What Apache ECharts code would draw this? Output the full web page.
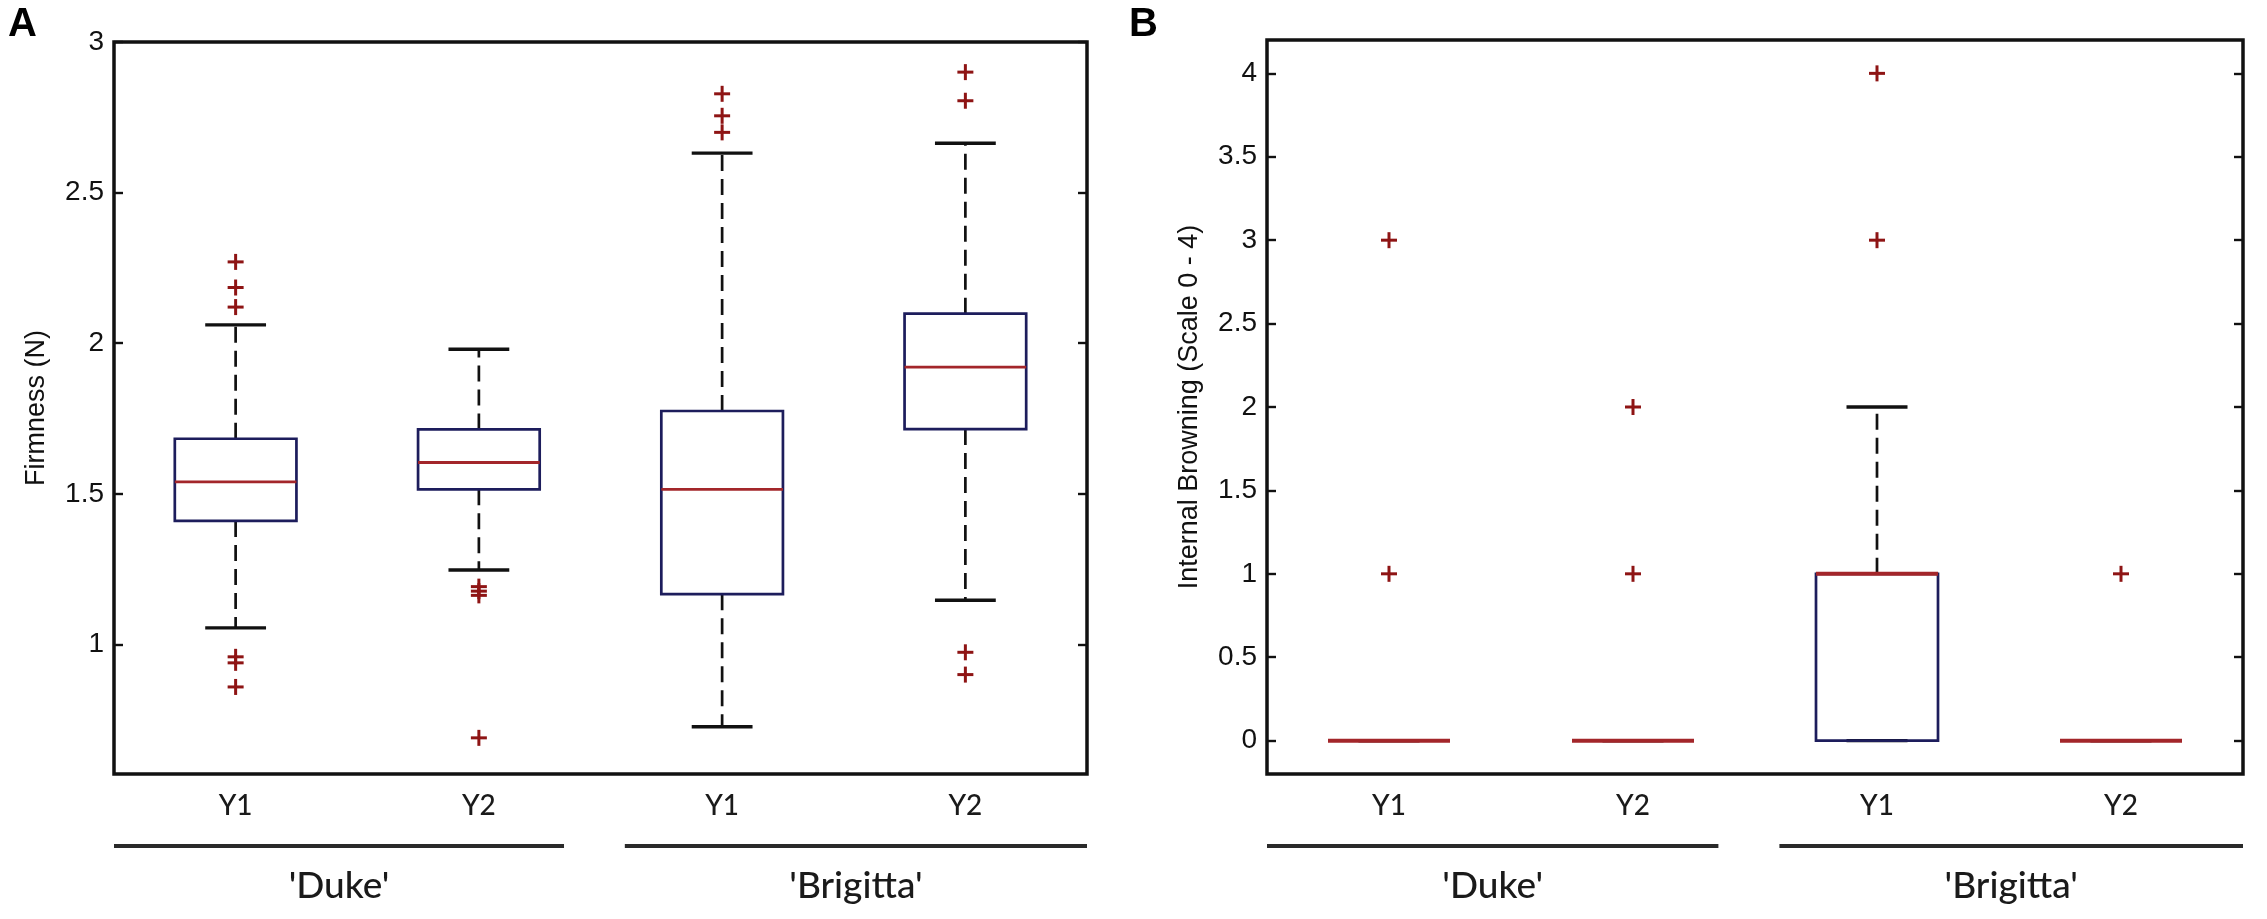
<!DOCTYPE html>
<html><head><meta charset="utf-8">
<script src="https://cdn.jsdelivr.net/npm/echarts@6/dist/echarts.min.js"></script>
<style>html,body{margin:0;padding:0;background:#fff}#c{width:2267px;height:919px}</style>
</head><body><div id="c"></div>
<script>
// ---- data ----
const categories = ['Y1', 'Y2', 'Y1', 'Y2'];
const groupNames = ["'Duke'", "'Brigitta'"];
// each box: [category index, lower whisker, Q1, median, Q3, upper whisker]
const firmnessBoxes = [
  [0, 1.055, 1.41, 1.54, 1.683, 2.061],
  [1, 1.247, 1.515, 1.604, 1.714, 1.98],
  [2, 0.727, 1.167, 1.515, 1.775, 2.631],
  [3, 1.147, 1.715, 1.921, 2.098, 2.664]
];
const firmnessOutliers = [
  [0, 2.27], [0, 2.185], [0, 2.12], [0, 0.959], [0, 0.939], [0, 0.859],
  [1, 1.192], [1, 1.177], [1, 1.163], [1, 0.69],
  [2, 2.828], [2, 2.755], [2, 2.70],
  [3, 2.90], [3, 2.805], [3, 0.974], [3, 0.90]
];
const browningBoxes = [
  [0, 0, 0, 0, 0, 0],
  [1, 0, 0, 0, 0, 0],
  [2, 0, 0, 1, 1, 2],
  [3, 0, 0, 0, 0, 0]
];
const browningOutliers = [
  [0, 1], [0, 3], [1, 1], [1, 2], [2, 3], [2, 4], [3, 1]
];
const firmnessTicks = [1, 1.5, 2, 2.5, 3];
const browningTicks = [0, 0.5, 1, 1.5, 2, 2.5, 3, 3.5, 4];
const firmnessRange = [0.57, 3];
const browningRange = [-0.2, 4.2];
// group bracket spans in category coordinates
const groupSpans = [[-0.5, 1.35], [1.6, 3.5]];

// ---- styles ----
const BOX_COLOR = '#1d1d5c';
const MED_COLOR = '#a3262a';
const OUT_COLOR = '#8e1414';
const INK = '#111';

function makeBoxItem(medWidth) {
  return function (params, api) {
    const i = api.value(0);
    const bw = api.size([1, 0])[0];
    const hb = bw * 0.25, hc = bw * 0.125;
    const cx = api.coord([i, api.value(3)])[0];
    const yLo = api.coord([i, api.value(1)])[1];
    const yQ1 = api.coord([i, api.value(2)])[1];
    const yMed = api.coord([i, api.value(3)])[1];
    const yQ3 = api.coord([i, api.value(4)])[1];
    const yHi = api.coord([i, api.value(5)])[1];
    const dash = { stroke: INK, lineWidth: 2.7, lineDash: [16, 8] };
    const cap = { stroke: INK, lineWidth: 3.4 };
    return {
      type: 'group',
      children: [
        { type: 'line', shape: { x1: cx, y1: yQ3, x2: cx, y2: yHi }, style: dash },
        { type: 'line', shape: { x1: cx, y1: yQ1, x2: cx, y2: yLo }, style: dash },
        { type: 'line', shape: { x1: cx - hc, y1: yHi, x2: cx + hc, y2: yHi }, style: cap },
        { type: 'line', shape: { x1: cx - hc, y1: yLo, x2: cx + hc, y2: yLo }, style: cap },
        { type: 'rect', shape: { x: cx - hb, y: yQ3, width: 2 * hb, height: yQ1 - yQ3 },
          style: { fill: 'none', stroke: BOX_COLOR, lineWidth: 2.7 } },
        { type: 'line', shape: { x1: cx - hb, y1: yMed, x2: cx + hb, y2: yMed },
          style: { stroke: MED_COLOR, lineWidth: medWidth } }
      ]
    };
  };
}
function plusItem(params, api) {
  const p = api.coord([api.value(0), api.value(1)]);
  const h = 8;
  const st = { stroke: OUT_COLOR, lineWidth: 3 };
  return {
    type: 'group',
    children: [
      { type: 'line', shape: { x1: p[0] - h, y1: p[1], x2: p[0] + h, y2: p[1] }, style: st },
      { type: 'line', shape: { x1: p[0], y1: p[1] - h, x2: p[0], y2: p[1] + h }, style: st }
    ]
  };
}

const labelFont = 'Liberation Sans';
function xAxisCfg(gi) {
  return {
    type: 'category', gridIndex: gi, data: categories,
    axisLine: { show: false }, axisTick: { show: false },
    axisLabel: { fontFamily: 'Lato', fontSize: 28, fontWeight: 500, color: '#1a1a1a', margin: 18 },
    splitLine: { show: false }
  };
}
function yAxisCfg(gi, range, ticks, name, right) {
  return {
    type: 'value', gridIndex: gi, min: range[0], max: range[1],
    position: right ? 'right' : 'left',
    axisLine: { show: false },
    axisTick: { show: true, inside: true, length: 9, customValues: ticks,
      lineStyle: { color: INK, width: 2.4 } },
    axisLabel: { show: !right, customValues: ticks, fontFamily: labelFont,
      fontSize: 28, color: INK, margin: 10 },
    splitLine: { show: false },
    name: right ? '' : name, nameLocation: 'middle', nameGap: 64,
    nameTextStyle: { fontFamily: labelFont, fontSize: 27, color: INK }
  };
}

const chart = echarts.init(document.getElementById('c'));
const gridBase = { show: true, borderColor: INK, borderWidth: 3.5, containLabel: false };
chart.setOption({
  backgroundColor: '#fff',
  animation: false,
  grid: [
    Object.assign({ left: 114, right: 1180, top: 42, bottom: 145 }, gridBase),
    Object.assign({ left: 1267, right: 24, top: 40, bottom: 145 }, gridBase)
  ],
  xAxis: [xAxisCfg(0), xAxisCfg(1)],
  yAxis: [
    yAxisCfg(0, firmnessRange, firmnessTicks, 'Firmness (N)', false),
    yAxisCfg(0, firmnessRange, firmnessTicks, '', true),
    yAxisCfg(1, browningRange, browningTicks, 'Internal Browning (Scale 0 - 4)', false),
    yAxisCfg(1, browningRange, browningTicks, '', true)
  ],
  series: [
    { type: 'custom', xAxisIndex: 0, yAxisIndex: 0, renderItem: makeBoxItem(2.8),
      data: firmnessBoxes, encode: { x: 0, y: [1, 2, 3, 4, 5] } },
    { type: 'custom', xAxisIndex: 0, yAxisIndex: 0, renderItem: plusItem,
      data: firmnessOutliers, encode: { x: 0, y: 1 } },
    { type: 'custom', xAxisIndex: 1, yAxisIndex: 2, renderItem: makeBoxItem(4),
      data: browningBoxes, encode: { x: 0, y: [1, 2, 3, 4, 5] } },
    { type: 'custom', xAxisIndex: 1, yAxisIndex: 2, renderItem: plusItem,
      data: browningOutliers, encode: { x: 0, y: 1 } }
  ]
});

// group brackets and labels placed from the category axes
const graphics = [
  { type: 'text', left: 8, top: 5, style: { text: 'A', font: 'bold 40px "Liberation Sans"', fill: '#000' } },
  { type: 'text', left: 1129, top: 5, style: { text: 'B', font: 'bold 40px "Liberation Sans"', fill: '#000' } }
];
[0, 1].forEach(function (ax) {
  const p0 = chart.convertToPixel({ xAxisIndex: ax }, 0);
  const p1 = chart.convertToPixel({ xAxisIndex: ax }, 1);
  const bw = p1 - p0;
  const px = function (c) { return p0 + c * bw; };
  groupSpans.forEach(function (span, gi) {
    const x1 = px(span[0]), x2 = px(span[1]);
    graphics.push({ type: 'line', shape: { x1: x1, y1: 846, x2: x2, y2: 846 },
      style: { stroke: '#2a2a2a', lineWidth: 4 } });
    graphics.push({ type: 'text', x: (x1 + x2) / 2, y: 886,
      style: { text: groupNames[gi], font: '500 37px Lato', fill: '#1a1a1a',
        textAlign: 'center', textVerticalAlign: 'middle' } });
  });
});
chart.setOption({ graphic: graphics });
</script></body></html>
